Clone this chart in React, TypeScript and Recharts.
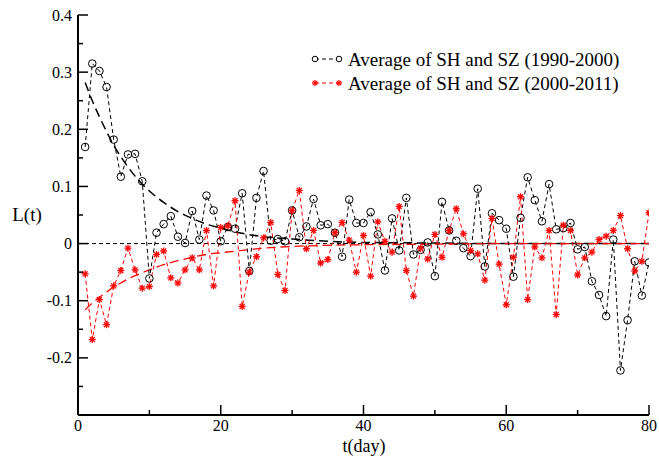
import React from "react";
import { ComposedChart, Line, XAxis, YAxis, ReferenceLine } from "recharts";

// t = 1..80 days
const days = Array.from({ length: 80 }, (_, i) => i + 1);

// Average of SH and SZ (1990-2000)
const avg1990 = [
  0.169, 0.315, 0.302, 0.274, 0.182, 0.117, 0.156, 0.157, 0.109, -0.061,
  0.019, 0.034, 0.048, 0.012, 0.001, 0.057, 0.007, 0.084, 0.058, 0.004,
  0.029, 0.026, 0.088, -0.048, 0.08, 0.127, 0.005, 0.008, 0.004, 0.058,
  0.011, 0.03, 0.078, 0.032, 0.034, 0.019, -0.023, 0.077, 0.036, 0.036,
  0.055, 0.016, -0.047, 0.044, -0.012, 0.08, -0.019, -0.011, 0.002, -0.057,
  0.073, 0.023, 0.005, -0.008, -0.022, 0.096, -0.04, 0.053, 0.041, 0.026,
  -0.058, 0.045, 0.116, 0.076, 0.039, 0.104, 0.025, 0.027, 0.036, -0.01,
  -0.006, -0.066, -0.09, -0.127, 0.007, -0.222, -0.134, -0.031, -0.091, -0.033,
];

// Average of SH and SZ (2000-2011)
const avg2000 = [
  -0.053, -0.168, -0.098, -0.142, -0.074, -0.047, -0.008, -0.046, -0.078, -0.075,
  -0.019, -0.013, -0.06, -0.069, -0.046, -0.025, -0.046, 0.023, -0.074, 0.028,
  0.031, 0.075, -0.11, -0.05, -0.023, 0.01, 0.037, -0.054, -0.082, 0.058,
  0.093, -0.009, 0.023, -0.034, -0.028, 0.019, 0.037, 0.006, -0.05, 0.014,
  -0.057, 0.038, 0.004, -0.015, 0.065, -0.047, -0.092, -0.008, -0.027, 0.016,
  -0.024, 0.023, 0.061, 0.017, -0.012, -0.018, -0.064, 0.044, -0.036, -0.107,
  -0.024, 0.082, -0.098, -0.006, -0.025, 0.023, -0.124, 0.032, 0.023, -0.055,
  -0.025, -0.015, 0.007, 0.013, 0.023, 0.049, -0.009, -0.048, -0.031, 0.054,
];

// fitted curves at these days
const fitDays = [1, 2, 3, 4, 5, 6, 7, 8, 9, 10, 12, 14, 16, 18, 20, 23, 26, 30, 35, 40, 50, 60, 70, 80];
const fit1990 = [0.282, 0.25, 0.222, 0.196, 0.172, 0.152, 0.134, 0.118, 0.104, 0.092, 0.072, 0.056, 0.044, 0.034, 0.027, 0.018, 0.012, 0.008, 0.004, 0.002, 0.001, 0, 0, 0];
const fit2000 = [-0.116, -0.104, -0.094, -0.085, -0.076, -0.069, -0.062, -0.056, -0.051, -0.046, -0.037, -0.03, -0.024, -0.019, -0.016, -0.012, -0.008, -0.005, -0.003, -0.002, -0.001, 0, 0, 0];

const xMajor = [0, 20, 40, 60, 80];
const xMinor = [10, 30, 50, 70];
const yMajor = [-0.3, -0.2, -0.1, 0, 0.1, 0.2, 0.3, 0.4];
const yMinor = [-0.25, -0.15, -0.05, 0.05, 0.15, 0.25, 0.35];
const yLabelled = [-0.2, -0.1, 0, 0.1, 0.2, 0.3, 0.4];

const legend1990 = "Average of SH and SZ (1990-2000)";
const legend2000 = "Average of SH and SZ (2000-2011)";

const rows = days.map((t, i) => {
  const k = fitDays.indexOf(t);
  return {
    t,
    a1990: avg1990[i],
    a2000: avg2000[i],
    f1990: k >= 0 ? fit1990[k] : null,
    f2000: k >= 0 ? fit2000[k] : null,
  };
});

const serif: React.CSSProperties = { fontFamily: '"Liberation Serif", "Times New Roman", Times, serif' };
const has = (list: number[], v: number) => list.some(x => Math.abs(x - v) < 1e-9);
const fmt = (v: number) => String(Math.round(v * 10) / 10);

const LeftTick = (p: any) => {
  const v = p.payload.value;
  const major = has(yMajor, v);
  return (
    <g>
      <line x1={p.x} x2={p.x + (major ? 10 : 5)} y1={p.y} y2={p.y} stroke="#000" strokeWidth={1.5} />
      {has(yLabelled, v) && (
        <text x={p.x - 6} y={p.y + 5.5} textAnchor="end" fontSize={16} style={serif} fill="#000">
          {fmt(v)}
        </text>
      )}
    </g>
  );
};

const RightTick = (p: any) => {
  const major = has(yMajor, p.payload.value);
  return <line x1={p.x} x2={p.x - (major ? 10 : 5)} y1={p.y} y2={p.y} stroke="#000" strokeWidth={1.5} />;
};

const BottomTick = (p: any) => {
  const v = p.payload.value;
  const major = has(xMajor, v);
  return (
    <g>
      <line x1={p.x} x2={p.x} y1={p.y} y2={p.y - (major ? 10 : 5)} stroke="#000" strokeWidth={1.5} />
      {major && (
        <text x={p.x} y={p.y + 16} textAnchor="middle" fontSize={16} style={serif} fill="#000">
          {v}
        </text>
      )}
    </g>
  );
};

const TopTick = (p: any) => {
  const major = has(xMajor, p.payload.value);
  return <line x1={p.x} x2={p.x} y1={p.y} y2={p.y + (major ? 10 : 5)} stroke="#000" strokeWidth={1.5} />;
};

const CircleDot = (p: any) => {
  if (p.cx == null || p.cy == null) return <g key={p.key} />;
  return <circle key={p.key} cx={p.cx} cy={p.cy} r={3.8} fill="none" stroke="#000" strokeWidth={1} />;
};

const StarDot = (p: any) => {
  if (p.cx == null || p.cy == null) return <g key={p.key} />;
  const { cx, cy } = p;
  const r = 3.5;
  const d = r * 0.72;
  return (
    <g key={p.key} stroke="#ff0000" strokeWidth={1.3}>
      <line x1={cx - r} x2={cx + r} y1={cy} y2={cy} />
      <line x1={cx} x2={cx} y1={cy - r} y2={cy + r} />
      <line x1={cx - d} x2={cx + d} y1={cy - d} y2={cy + d} />
      <line x1={cx - d} x2={cx + d} y1={cy + d} y2={cy - d} />
    </g>
  );
};

const allX = [...xMajor, ...xMinor].sort((a, b) => a - b);
const allY = [...yMajor, ...yMinor].sort((a, b) => a - b);

export default function App() {
  return (
    <div style={{ position: "absolute", left: 0, top: 0, width: 659, height: 456, background: "#fff" }}>
      <ComposedChart width={659} height={456} data={rows} margin={{ top: 15, right: 10, left: 0, bottom: 0 }}>
        <XAxis
          dataKey="t"
          type="number"
          domain={[0, 80]}
          ticks={allX}
          interval={0}
          allowDataOverflow
          height={41}
          tickSize={0}
          tickMargin={0}
          tick={<BottomTick />}
          axisLine={{ stroke: "#000", strokeWidth: 2 }}
        />
        <XAxis
          xAxisId="top"
          orientation="top"
          type="number"
          domain={[0, 80]}
          ticks={allX}
          interval={0}
          allowDataOverflow
          height={0}
          tickSize={0}
          tickMargin={0}
          tick={<TopTick />}
          axisLine={{ stroke: "#000", strokeWidth: 2 }}
        />
        <YAxis
          type="number"
          domain={[-0.3, 0.4]}
          ticks={allY}
          interval={0}
          allowDataOverflow
          width={78}
          tickSize={0}
          tickMargin={0}
          tick={<LeftTick />}
          axisLine={{ stroke: "#000", strokeWidth: 2 }}
        />
        <YAxis
          yAxisId="right"
          orientation="right"
          type="number"
          domain={[-0.3, 0.4]}
          ticks={allY}
          interval={0}
          allowDataOverflow
          width={0}
          tickSize={0}
          tickMargin={0}
          tick={<RightTick />}
          axisLine={{ stroke: "#000", strokeWidth: 2 }}
        />
        <ReferenceLine y={0} stroke="#000" strokeWidth={1} strokeDasharray="4 3" />
        <Line
          dataKey="f1990"
          type="monotone"
          connectNulls
          stroke="#000"
          strokeWidth={1.5}
          strokeDasharray="9 5"
          dot={false}
          activeDot={false}
          isAnimationActive={false}
        />
        <Line
          dataKey="f2000"
          type="monotone"
          connectNulls
          stroke="#ff0000"
          strokeWidth={1.3}
          strokeDasharray="9 5"
          dot={false}
          activeDot={false}
          isAnimationActive={false}
        />
        <Line
          dataKey="a1990"
          type="linear"
          stroke="#000"
          strokeWidth={1}
          strokeDasharray="4 3"
          dot={CircleDot}
          activeDot={false}
          isAnimationActive={false}
        />
        <Line
          dataKey="a2000"
          type="linear"
          stroke="#ff0000"
          strokeWidth={1}
          strokeDasharray="4 3"
          dot={StarDot}
          activeDot={false}
          isAnimationActive={false}
        />
      </ComposedChart>
      <svg width={659} height={456} style={{ position: "absolute", left: 0, top: 0, pointerEvents: "none" }}>
        <text x={27} y={221} textAnchor="middle" fontSize={19} style={serif} fill="#000">L(t)</text>
        <text x={364} y={452} textAnchor="middle" fontSize={18} style={serif} fill="#000">t(day)</text>
        <g>
          <line x1={315} x2={339} y1={59} y2={59} stroke="#000" strokeWidth={1} strokeDasharray="4 3" />
          <circle cx={315} cy={59} r={2.8} fill="#fff" stroke="#000" strokeWidth={1} />
          <circle cx={339} cy={59} r={2.8} fill="#fff" stroke="#000" strokeWidth={1} />
          <text x={348} y={65.5} fontSize={19} style={serif} fill="#000">{legend1990}</text>
        </g>
        <g>
          <line x1={315} x2={339} y1={83} y2={83} stroke="#ff0000" strokeWidth={1} strokeDasharray="4 3" />
          {[315, 339].map(cx => (
            <g key={cx} stroke="#ff0000" strokeWidth={1.2}>
              <line x1={cx - 3} x2={cx + 3} y1={83} y2={83} />
              <line x1={cx} x2={cx} y1={80} y2={86} />
              <line x1={cx - 2.2} x2={cx + 2.2} y1={80.8} y2={85.2} />
              <line x1={cx - 2.2} x2={cx + 2.2} y1={85.2} y2={80.8} />
            </g>
          ))}
          <text x={348} y={89.5} fontSize={19} style={serif} fill="#000">{legend2000}</text>
        </g>
      </svg>
    </div>
  );
}
